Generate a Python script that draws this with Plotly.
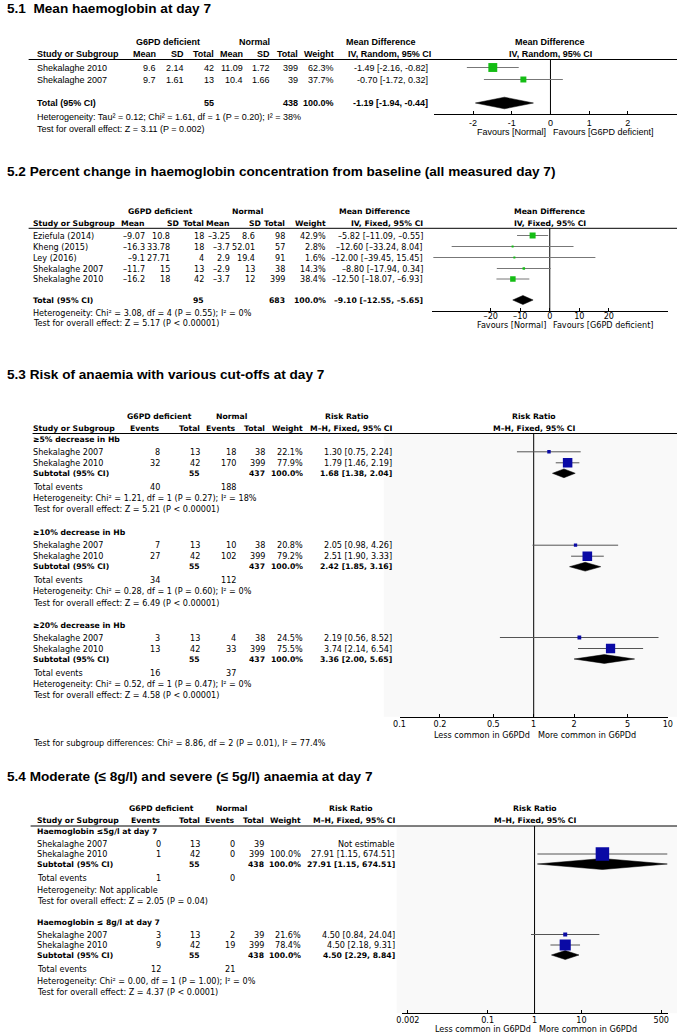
import plotly.graph_objects as go

W, H = 682, 1034

# ======================= DATA =======================
# ---- 5.1 Mean haemoglobin at day 7
s1_title = "5.1\u00a0\u00a0Mean haemoglobin at day 7"
s1_studies = ["Shekalaghe 2010", "Shekalaghe 2007"]
s1_g_mean = [9.6, 9.7]
s1_g_sd = [2.14, 1.61]
s1_g_n = [42, 13]
s1_n_mean = [11.09, 10.4]
s1_n_sd = [1.72, 1.66]
s1_n_n = [399, 39]
s1_weight = [62.3, 37.7]
s1_md = [-1.49, -0.70]
s1_lo = [-2.16, -1.72]
s1_hi = [-0.82, 0.32]
s1_tot_n = [55, 438]
s1_tot = [-1.19, -1.94, -0.44]
s1_het = "Heterogeneity: Tau² = 0.12; Chi² = 1.61, df = 1 (P = 0.20); I² = 38%"
s1_test = "Test for overall effect: Z = 3.11 (P = 0.002)"
s1_ticks = [-2, -1, 0, 1, 2]
s1_fav = ["Favours [Normal]", "Favours [G6PD deficient]"]

# ---- 5.2 Percent change in haemoglobin
s2_title = "5.2 Percent change in haemoglobin concentration from baseline (all measured day 7)"
s2_studies = ["Eziefula (2014)", "Kheng (2015)", "Ley (2016)", "Shekalaghe 2007", "Shekalaghe 2010"]
s2_g_mean = [-9.07, -16.3, -9.1, -11.7, -16.2]
s2_g_sd = [10.8, 33.78, 27.71, 15, 18]
s2_g_n = [18, 18, 4, 13, 42]
s2_n_mean = [-3.25, -3.7, 2.9, -2.9, -3.7]
s2_n_sd = [8.6, 52.01, 19.4, 13, 12]
s2_n_n = [98, 57, 91, 38, 399]
s2_weight = [42.9, 2.8, 1.6, 14.3, 38.4]
s2_md = [-5.82, -12.60, -12.00, -8.80, -12.50]
s2_lo = [-11.09, -33.24, -39.45, -17.94, -18.07]
s2_hi = [-0.55, 8.04, 15.45, 0.34, -6.93]
s2_tot_n = [95, 683]
s2_tot = [-9.10, -12.55, -5.65]
s2_het = "Heterogeneity: Chi² = 3.08, df = 4 (P = 0.55); I² = 0%"
s2_test = "Test for overall effect: Z = 5.17 (P < 0.00001)"
s2_ticks = [-20, -10, 0, 10, 20]
s2_fav = ["Favours [Normal]", "Favours [G6PD deficient]"]

# ---- 5.3 Risk of anaemia with various cut-offs
s3_title = "5.3 Risk of anaemia with various cut-offs at day 7"
s3_subgroups = ["≥5% decrease in Hb", "≥10% decrease in Hb", "≥20% decrease in Hb"]
s3_studies = ["Shekalaghe 2007", "Shekalaghe 2010"]
s3_g_events = [[8, 32], [7, 27], [3, 13]]
s3_g_total = [[13, 42], [13, 42], [13, 42]]
s3_n_events = [[18, 170], [10, 102], [4, 33]]
s3_n_total = [[38, 399], [38, 399], [38, 399]]
s3_weight = [[22.1, 77.9], [20.8, 79.2], [24.5, 75.5]]
s3_rr = [[1.30, 1.79], [2.05, 2.51], [2.19, 3.74]]
s3_lo = [[0.75, 1.46], [0.98, 1.90], [0.56, 2.14]]
s3_hi = [[2.24, 2.19], [4.26, 3.33], [8.52, 6.54]]
s3_sub_n = [[55, 437], [55, 437], [55, 437]]
s3_sub_rr = [1.68, 2.42, 3.36]
s3_sub_lo = [1.38, 1.85, 2.00]
s3_sub_hi = [2.04, 3.16, 5.65]
s3_te = [[40, 188], [34, 112], [16, 37]]
s3_het = ["Heterogeneity: Chi² = 1.21, df = 1 (P = 0.27); I² = 18%",
          "Heterogeneity: Chi² = 0.28, df = 1 (P = 0.60); I² = 0%",
          "Heterogeneity: Chi² = 0.52, df = 1 (P = 0.47); I² = 0%"]
s3_test = ["Test for overall effect: Z = 5.21 (P < 0.00001)",
           "Test for overall effect: Z = 6.49 (P < 0.00001)",
           "Test for overall effect: Z = 4.58 (P < 0.00001)"]
s3_subdiff = "Test for subgroup differences: Chi² = 8.86, df = 2 (P = 0.01), I² = 77.4%"
s3_ticks = [0.1, 0.2, 0.5, 1, 2, 5, 10]
s3_fav = ["Less common in G6PDd", "More common in G6PDd"]

# ---- 5.4 Moderate and severe anaemia
s4_title = "5.4 Moderate (≤ 8g/l) and severe (≤ 5g/l) anaemia at day 7"
s4_subgroups = ["Haemoglobin ≤5g/l at day 7", "Haemoglobin ≤ 8g/l at day 7"]
s4_studies = ["Shekalaghe 2007", "Shekalaghe 2010"]
s4_g_events = [[0, 1], [3, 9]]
s4_g_total = [[13, 42], [13, 42]]
s4_n_events = [[0, 0], [2, 19]]
s4_n_total = [[39, 399], [39, 399]]
s4_weight = [[None, 100.0], [21.6, 78.4]]
s4_rr = [[None, 27.91], [4.50, 4.50]]
s4_lo = [[None, 1.15], [0.84, 2.18]]
s4_hi = [[None, 674.51], [24.04, 9.31]]
s4_sub_n = [[55, 438], [55, 438]]
s4_sub_rr = [27.91, 4.50]
s4_sub_lo = [1.15, 2.29]
s4_sub_hi = [674.51, 8.84]
s4_te = [[1, 0], [12, 21]]
s4_het = ["Heterogeneity: Not applicable",
          "Heterogeneity: Chi² = 0.00, df = 1 (P = 1.00); I² = 0%"]
s4_test = ["Test for overall effect: Z = 2.05 (P = 0.04)",
           "Test for overall effect: Z = 4.37 (P < 0.0001)"]
s4_ticks = [0.002, 0.1, 1, 10, 500]
s4_fav = ["Less common in G6PDd", "More common in G6PDd"]

# ======================= STYLE / LAYOUT =======================
ARIAL = "Liberation Sans, Arial, sans-serif"
LUC = "DejaVu Sans, sans-serif"
GREEN = "#14bd14"
BLUE = "#0a0aa5"
GRAY1 = "#777777"
GRAY2 = "#555555"
BODY = 8.1   # body text size for sections 5.2-5.4
BOLD = 7.7   # bold text size for sections 5.2-5.4
TITLE = 13.6

fig = go.Figure()
annotations = []
shapes = []


def T(x, y, s, anchor="left", size=BODY, fam=LUC, bold=False):
    if bold:
        s = "<b>" + s + "</b>"
    annotations.append(dict(x=x / W, y=y, xref="paper", yref="y", text=s, showarrow=False,
                            xanchor=anchor, yanchor="middle", borderpad=0, borderwidth=0,
                            font=dict(family=fam, size=size, color="black")))


def hline(x0, y):
    shapes.append(dict(type="line", xref="paper", yref="y", x0=x0 / W, x1=1, y0=y, y1=y,
                       line=dict(color="black", width=1)))


def shade(x0, y0, y1):
    shapes.append(dict(type="rect", xref="paper", yref="y", x0=x0 / W, x1=1, y0=y0, y1=y1,
                       fillcolor="#f9f9f9", line=dict(width=0), layer="below"))


def null_line(xax, v, y0, y1):
    fig.add_trace(go.Scatter(x=[v, v], y=[y0, y1], xaxis=xax, yaxis="y", mode="lines",
                             line=dict(color="black", width=1), hoverinfo="skip", showlegend=False))


def ci(xax, lo, hi, y, color):
    fig.add_trace(go.Scatter(x=[lo, hi], y=[y, y], xaxis=xax, yaxis="y", mode="lines",
                             line=dict(color=color, width=1), hoverinfo="skip", showlegend=False))


def sq(xax, est, y, size, color):
    fig.add_trace(go.Scatter(x=[est], y=[y], xaxis=xax, yaxis="y", mode="markers",
                             marker=dict(symbol="square", size=size, color=color, line=dict(width=0)),
                             hoverinfo="skip", showlegend=False))


def diamond(xax, est, lo, hi, y, h):
    fig.add_trace(go.Scatter(x=[lo, est, hi, est, lo], y=[y, y - h, y, y + h, y], xaxis=xax, yaxis="y",
                             mode="lines", fill="toself", fillcolor="black",
                             line=dict(color="black", width=0.5), hoverinfo="skip", showlegend=False))


def ssize(w, base):
    return max(2.0, base * (w / 100.0) ** 0.8)


def neg(s):
    return s.replace("-", "\u2013")


def f2(v):
    return f"{v:.2f}"


# ---------------------------------------------------------------- 5.1
L1 = dict(title=8, h1=42, h2=54, line=59.5, rows=[67.5, 79.5], total=103, het=117, test=129, axis=114, fav=132)
C1 = dict(study=31, g_mean=152, g_sd=181, g_n=211, n_mean=241, n_sd=268, n_n=297, weight=333, ci=429,
          ci_hdr=432, g_ctr=165, n_ctr=253, md_ctr=381, plot_ctr=553)
A1 = dict(size=9, fam=ARIAL)
T(1, L1["title"], s1_title, size=TITLE, fam=ARIAL, bold=True)
T(C1["g_ctr"], L1["h1"], "G6PD deficient", "center", bold=True, **A1)
T(C1["n_ctr"], L1["h1"], "Normal", "center", bold=True, **A1)
T(C1["md_ctr"], L1["h1"], "Mean Difference", "center", bold=True, **A1)
T(C1["plot_ctr"], L1["h1"], "Mean Difference", "center", bold=True, **A1)
T(C1["study"], L1["h2"], "Study or Subgroup", bold=True, **A1)
for key, lab in [("g_mean", "Mean"), ("g_sd", "SD"), ("g_n", "Total"), ("n_mean", "Mean"), ("n_sd", "SD"),
                 ("n_n", "Total"), ("weight", "Weight"), ("ci_hdr", "IV, Random, 95% CI")]:
    T(C1[key], L1["h2"], lab, "right", bold=True, **A1)
T(C1["plot_ctr"], L1["h2"], "IV, Random, 95% CI", "center", bold=True, **A1)
hline(23, L1["line"])
null_line("x", 0, L1["line"], L1["axis"])
for i, st in enumerate(s1_studies):
    y = L1["rows"][i]
    T(C1["study"], y, st, **A1)
    T(C1["g_mean"], y, f"{s1_g_mean[i]:g}", "right", **A1)
    T(C1["g_sd"], y, f"{s1_g_sd[i]:g}", "right", **A1)
    T(C1["g_n"], y, str(s1_g_n[i]), "right", **A1)
    T(C1["n_mean"], y, f"{s1_n_mean[i]:g}", "right", **A1)
    T(C1["n_sd"], y, f"{s1_n_sd[i]:g}", "right", **A1)
    T(C1["n_n"], y, str(s1_n_n[i]), "right", **A1)
    T(C1["weight"], y, f"{s1_weight[i]:.1f}%", "right", **A1)
    T(C1["ci"], y, f"{f2(s1_md[i])} [{f2(s1_lo[i])}, {f2(s1_hi[i])}]", "right", **A1)
    ci("x", s1_lo[i], s1_hi[i], y, GRAY1)
    sq("x", s1_md[i], y, ssize(s1_weight[i], 13), GREEN)
y = L1["total"]
T(C1["study"], y, "Total (95% CI)", bold=True, **A1)
T(C1["g_n"], y, str(s1_tot_n[0]), "right", bold=True, **A1)
T(C1["n_n"], y, str(s1_tot_n[1]), "right", bold=True, **A1)
T(C1["weight"], y, "100.0%", "right", bold=True, **A1)
T(C1["ci"], y, f"{f2(s1_tot[0])} [{f2(s1_tot[1])}, {f2(s1_tot[2])}]", "right", bold=True, **A1)
diamond("x", s1_tot[0], s1_tot[1], s1_tot[2], y, 5.8)
T(C1["study"], L1["het"], s1_het, **A1)
T(C1["study"], L1["test"], s1_test, **A1)
T(C1["plot_ctr"] - 4, L1["fav"], s1_fav[0], "right", **A1)
T(C1["plot_ctr"] + 3, L1["fav"], s1_fav[1], "left", **A1)

# ---------------------------------------------------------------- 5.2
L2 = dict(title=171, h1=211.7, h2=223.3, line=228.3, rows=[235.5, 246.5, 257.5, 268.5, 279], total=300,
          het=312.7, test=323, axis=311, fav=324.5)
C2 = dict(study=27, g_mean=141, g_sd_h=176, g_sd=167, g_n=201, n_mean=228, n_sd_h=259, n_sd=253, n_n=284,
          weight=325, ci=424, g_ctr=157, n_ctr=245, md_ctr=375, plot_ctr=552.5)
T(1, L2["title"], s2_title, size=TITLE, fam=ARIAL, bold=True)
T(C2["g_ctr"], L2["h1"], "G6PD deficient", "center", bold=True, size=BOLD)
T(C2["n_ctr"], L2["h1"], "Normal", "center", bold=True, size=BOLD)
T(C2["md_ctr"], L2["h1"], "Mean Difference", "center", bold=True, size=BOLD)
T(C2["plot_ctr"], L2["h1"], "Mean Difference", "center", bold=True, size=BOLD)
T(C2["study"], L2["h2"], "Study or Subgroup", bold=True, size=BOLD)
for key, lab in [("g_mean", "Mean"), ("g_sd_h", "SD"), ("g_n", "Total"), ("n_mean", "Mean"), ("n_sd_h", "SD"),
                 ("n_n", "Total"), ("weight", "Weight"), ("ci", "IV, Fixed, 95% CI")]:
    T(C2[key], L2["h2"], lab, "right", bold=True, size=BOLD)
T(C2["plot_ctr"], L2["h2"], "IV, Fixed, 95% CI", "center", bold=True, size=BOLD)
hline(23, L2["line"])
null_line("x2", 0, L2["line"], L2["axis"])
for i, st in enumerate(s2_studies):
    y = L2["rows"][i]
    T(C2["study"], y, st)
    T(C2["g_mean"], y, neg(f"{s2_g_mean[i]:g}"), "right")
    T(C2["g_sd"], y, f"{s2_g_sd[i]:g}", "right")
    T(C2["g_n"], y, str(s2_g_n[i]), "right")
    T(C2["n_mean"], y, neg(f"{s2_n_mean[i]:g}"), "right")
    T(C2["n_sd"], y, f"{s2_n_sd[i]:g}", "right")
    T(C2["n_n"], y, str(s2_n_n[i]), "right")
    T(C2["weight"], y, f"{s2_weight[i]:.1f}%", "right")
    T(C2["ci"], y, neg(f"{f2(s2_md[i])} [{f2(s2_lo[i])}, {f2(s2_hi[i])}]"), "right")
    ci("x2", s2_lo[i], s2_hi[i], y, GRAY1)
    sq("x2", s2_md[i], y, ssize(s2_weight[i], 11.8), GREEN)
y = L2["total"]
T(C2["study"], y, "Total (95% CI)", bold=True, size=BOLD)
T(C2["g_n"], y, str(s2_tot_n[0]), "right", bold=True, size=BOLD)
T(C2["n_n"], y, str(s2_tot_n[1]), "right", bold=True, size=BOLD)
T(C2["weight"], y, "100.0%", "right", bold=True, size=BOLD)
T(C2["ci"], y, neg(f"{f2(s2_tot[0])} [{f2(s2_tot[1])}, {f2(s2_tot[2])}]"), "right", bold=True, size=BOLD)
diamond("x2", s2_tot[0], s2_tot[1], s2_tot[2], y, 4.5)
T(C2["study"], L2["het"], s2_het)
T(C2["study"], L2["test"], s2_test)
T(C2["plot_ctr"] - 4, L2["fav"], s2_fav[0], "right")
T(C2["plot_ctr"] + 3, L2["fav"], s2_fav[1], "left")


# ---------------------------------------------------------------- 5.3 / 5.4 (subgroup layouts)
def subgroup_section(xax, L, C, title, subgroups, studies, g_ev, g_tot, n_ev, n_tot, wts, rr, lo, hi,
                     sub_n, sub_rr, sub_lo, sub_hi, te, het, test, base):
    T(1, L["title"], title, size=TITLE, fam=ARIAL, bold=True)
    T(C["g_ctr"], L["h1"], "G6PD deficient", "center", bold=True, size=BOLD)
    T(C["n_ctr"], L["h1"], "Normal", "center", bold=True, size=BOLD)
    T(C["rr_ctr"], L["h1"], "Risk Ratio", "center", bold=True, size=BOLD)
    T(C["plot_ctr"], L["h1"], "Risk Ratio", "center", bold=True, size=BOLD)
    T(C["study"], L["h2"], "Study or Subgroup", bold=True, size=BOLD)
    for key, lab in [("g_ev", "Events"), ("g_n", "Total"), ("n_ev", "Events"), ("n_n", "Total"),
                     ("weight", "Weight"), ("ci", "M\u2013H, Fixed, 95% CI")]:
        T(C[key], L["h2"], lab, "right", bold=True, size=BOLD)
    T(C["plot_ctr"], L["h2"], "M\u2013H, Fixed, 95% CI", "center", bold=True, size=BOLD)
    hline(C["line_x0"], L["line"])
    shade(C["shade_x0"], L["line"], L["axis"])
    null_line(xax, 1, L["line"], L["axis"])
    for b, start in enumerate(L["blocks"]):
        off = L["off"]
        T(C["study"], start, subgroups[b], bold=True, size=BOLD)
        ys = start + off[3]
        diamond(xax, sub_rr[b], sub_lo[b], sub_hi[b], ys, L["dh"][b])
        for i, st in enumerate(studies):
            y = start + off[1 + i]
            T(C["study"], y, st)
            T(C["g_ev"], y, str(g_ev[b][i]), "right")
            T(C["g_n"], y, str(g_tot[b][i]), "right")
            T(C["n_ev"], y, str(n_ev[b][i]), "right")
            T(C["n_n"], y, str(n_tot[b][i]), "right")
            if rr[b][i] is None:
                T(C["ci"], y, "Not estimable", "right")
                continue
            T(C["weight"], y, f"{wts[b][i]:.1f}%", "right")
            T(C["ci"], y, f"{f2(rr[b][i])} [{f2(lo[b][i])}, {f2(hi[b][i])}]", "right")
            ci(xax, lo[b][i], hi[b][i], y, GRAY2)
            sq(xax, rr[b][i], y, ssize(wts[b][i], base), BLUE)
        T(C["study"], ys, "Subtotal (95% CI)", bold=True, size=BOLD)
        T(C["g_n"], ys, str(sub_n[b][0]), "right", bold=True, size=BOLD)
        T(C["n_n"], ys, str(sub_n[b][1]), "right", bold=True, size=BOLD)
        T(C["weight"], ys, "100.0%", "right", bold=True, size=BOLD)
        T(C["ci"], ys, f"{f2(sub_rr[b])} [{f2(sub_lo[b])}, {f2(sub_hi[b])}]", "right", bold=True, size=BOLD)
        yt = start + off[4]
        T(C["study"], yt, "Total events")
        T(C["g_ev"], yt, str(te[b][0]), "right")
        T(C["n_ev"], yt, str(te[b][1]), "right")
        T(C["study"], start + off[5], het[b])
        T(C["study"], start + off[6], test[b])


L3 = dict(title=374, h1=416.7, h2=428.3, line=433.5, blocks=[439.3, 532.7, 625],
          off=[0, 12.5, 23.5, 34, 47.5, 58.7, 70], dh=[4.4, 4.4, 4.4], axis=716.7, fav=735, subdiff=742.7)
C3 = dict(study=27.7, g_ev=156.7, g_n=196.7, n_ev=233.3, n_n=263.3, weight=301.7, ci=392.7,
          g_ctr=155.8, n_ctr=229.5, rr_ctr=347, plot_ctr=536.5, line_x0=27, shade_x0=384)
subgroup_section("x3", L3, C3, s3_title, s3_subgroups, s3_studies, s3_g_events, s3_g_total, s3_n_events,
                 s3_n_total, s3_weight, s3_rr, s3_lo, s3_hi, s3_sub_n, s3_sub_rr, s3_sub_lo, s3_sub_hi,
                 s3_te, s3_het, s3_test, 11.6)
T(C3["study"], L3["subdiff"], s3_subdiff)
T(C3["plot_ctr"] - 4, L3["fav"], s3_fav[0], "right")
T(C3["plot_ctr"] + 4, L3["fav"], s3_fav[1], "left")

L4 = dict(title=776, h1=808.3, h2=820, line=826, blocks=[831.7, 922.7],
          off=[0, 11.8, 22.3, 32.3, 46.3, 58, 69.3], dh=[5.5, 4.5], axis=1013.3, fav=1029)
C4 = dict(study=31, g_ev=157.3, g_n=196.7, n_ev=232.7, n_n=262.7, weight=300, ci=395,
          g_ctr=158.3, n_ctr=229, rr_ctr=351, plot_ctr=537.3, line_x0=25, shade_x0=397)
subgroup_section("x4", L4, C4, s4_title, s4_subgroups, s4_studies, s4_g_events, s4_g_total, s4_n_events,
                 s4_n_total, s4_weight, s4_rr, s4_lo, s4_hi, s4_sub_n, s4_sub_rr, s4_sub_lo, s4_sub_hi,
                 s4_te, s4_het, s4_test, 13.5)
T(C4["plot_ctr"] - 4, L4["fav"], s4_fav[0], "right")
T(C4["plot_ctr"] + 4, L4["fav"], s4_fav[1], "left")


# ---------------------------------------------------------------- axes
def xax(domain_px, rng, ticks, ticktext, axis_y, font, typ="linear", standoff=0):
    return dict(domain=[domain_px[0] / W, domain_px[1] / W], range=rng, type=typ, anchor="free",
                position=1 - axis_y / H, showline=True, linecolor="black", linewidth=1,
                ticks="inside", ticklen=3, tickwidth=1, tickcolor="black", tickvals=ticks,
                ticktext=ticktext, tickfont=font, showgrid=False, zeroline=False, fixedrange=True,
                ticklabelstandoff=standoff)


fig.update_layout(
    width=W, height=H, margin=dict(l=0, r=0, t=0, b=0),
    paper_bgcolor="white", plot_bgcolor="rgba(0,0,0,0)", showlegend=False,
    yaxis=dict(domain=[0, 1], range=[H, 0], visible=False, fixedrange=True),
    xaxis=xax((435, 682), [-3.01, 3.27], s1_ticks, [str(t) for t in s1_ticks], L1["axis"],
              dict(family=ARIAL, size=9, color="black")),
    xaxis2=xax((432.7, 672.7), [-40, 40], s2_ticks, [neg(str(t)) for t in s2_ticks], L2["axis"],
               dict(family=LUC, size=BODY, color="black"), standoff=-3),
    xaxis3=xax((400, 672.7), [-1, 1], s3_ticks, [f"{t:g}" for t in s3_ticks], L3["axis"],
               dict(family=LUC, size=BODY, color="black"), "log"),
    xaxis4=xax((402.7, 672.7), [-2.82, 2.84], s4_ticks, [f"{t:g}" for t in s4_ticks], L4["axis"],
               dict(family=LUC, size=BODY, color="black"), "log", standoff=-1),
    annotations=annotations, shapes=shapes,
)

fig.write_html("out.html", config={"displayModeBar": False},
               post_script="document.body.style.margin='0px';document.body.style.overflow='hidden';")
